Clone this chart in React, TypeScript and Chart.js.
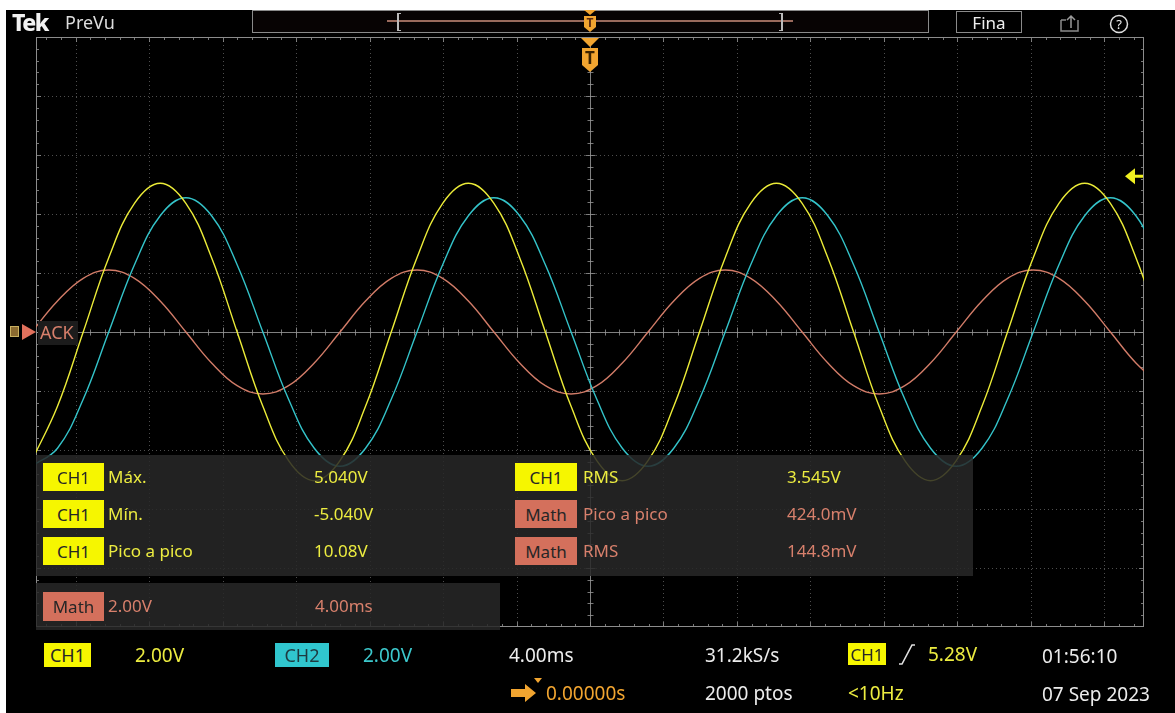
import React, { useEffect, useRef } from "react";
import { Chart, registerables } from "chart.js";
Chart.register(...registerables);

const timeMs = [
  -30.39, -28.99, -27.59, -26.2, -24.8, -23.4, -22.0, -20.6, -19.21, -17.81, -16.41, -15.01,
  -13.61, -12.22, -10.82, -9.42, -8.02, -6.62, -5.23, -3.83, -2.43, -1.03, 0.37, 1.76, 3.16,
  4.56, 5.96, 7.36, 8.75, 10.15, 11.55, 12.95, 14.35, 15.74, 17.14, 18.54, 19.94, 21.34, 22.73,
  24.13, 25.53, 26.93, 28.33, 29.72, 31.12,
];
const ch1Volts = [
  -4.36, -2.52, 0, 2.52, 4.36, 5.04, 4.36, 2.52, 0, -2.52, -4.36, -5.04, -4.36, -2.52, 0, 2.52,
  4.36, 5.04, 4.36, 2.52, 0, -2.52, -4.36, -5.04, -4.36, -2.52, 0, 2.52, 4.36, 5.04, 4.36, 2.52,
  0, -2.52, -4.36, -5.04, -4.36, -2.52, 0, 2.52, 4.36, 5.04, 4.36, 2.52, 0,
];
const ch2Volts = [
  -4.55, -3.94, -2.28, 0, 2.28, 3.94, 4.55, 3.94, 2.28, 0, -2.28, -3.94, -4.55, -3.94, -2.28, 0,
  2.28, 3.94, 4.55, 3.94, 2.28, 0, -2.28, -3.94, -4.55, -3.94, -2.28, 0, 2.28, 3.94, 4.55, 3.94,
  2.28, 0, -2.28, -3.94, -4.55, -3.94, -2.28, 0, 2.28, 3.94, 4.55, 3.94, 2.28,
];
const mathVolts = [
  0, 1.05, 1.82, 2.1, 1.82, 1.05, 0, -1.05, -1.82, -2.1, -1.82, -1.05, 0, 1.05, 1.82, 2.1, 1.82,
  1.05, 0, -1.05, -1.82, -2.1, -1.82, -1.05, 0, 1.05, 1.82, 2.1, 1.82, 1.05, 0, -1.05, -1.82,
  -2.1, -1.82, -1.05, 0, 1.05, 1.82, 2.1, 1.82, 1.05, 0, -1.05, -1.82,
];
const xGridMs = [-28, -24, -20, -16, -12, -8, -4, 0, 4, 8, 12, 16, 20, 24, 28];
const yGridV = [-8, -6, -4, -2, 0, 2, 4, 6, 8];
const X_MIN = -30.16;
const X_MAX = 30.16;
const Y_MIN = -10;
const Y_MAX = 10;
const triggerLevelV = 5.28;
const triggerTimeMs = 0;

const measLeft = [
  { src: "CH1", label: "Máx.", value: "5.040V" },
  { src: "CH1", label: "Mín.", value: "-5.040V" },
  { src: "CH1", label: "Pico a pico", value: "10.08V" },
];
const measRight = [
  { src: "CH1", label: "RMS", value: "3.545V" },
  { src: "Math", label: "Pico a pico", value: "424.0mV" },
  { src: "Math", label: "RMS", value: "144.8mV" },
];

const YEL_TRACE = "#ecec38";
const CYAN_TRACE = "#34c4ca";
const SALMON_TRACE = "#d27c68";
const YEL_BOX = "#f6f600";
const YEL_TEXT = "#ecec40";
const CYAN_BOX = "#30c6ce";
const CYAN_TEXT = "#3cc8cc";
const MATH_BOX = "#d4705c";
const MATH_TEXT = "#d8806c";
const WHITE_TEXT = "#ececec";
const ORANGE = "#f2a530";
const FONT = "'Noto Sans', 'Open Sans', sans-serif";

const scopePlugin = {
  id: "scope",
  beforeDatasetsDraw(chart: any) {
    const { ctx, chartArea: a, scales } = chart;
    const x = scales.x;
    const y = scales.y;
    ctx.save();
    ctx.lineWidth = 1;
    ctx.strokeStyle = "rgba(120,120,120,0.65)";
    ctx.setLineDash([1, 3]);
    xGridMs.forEach((v) => {
      if (v === 0) return;
      const px = Math.round(x.getPixelForValue(v)) + 0.5;
      ctx.beginPath();
      ctx.moveTo(px, a.top);
      ctx.lineTo(px, a.bottom);
      ctx.stroke();
    });
    yGridV.forEach((v) => {
      if (v === 0) return;
      const py = Math.round(y.getPixelForValue(v)) + 0.5;
      ctx.beginPath();
      ctx.moveTo(a.left, py);
      ctx.lineTo(a.right, py);
      ctx.stroke();
    });
    ctx.setLineDash([]);
    const cx = Math.round(x.getPixelForValue(0)) + 0.5;
    const cy = Math.round(y.getPixelForValue(0)) + 0.5;
    ctx.strokeStyle = "rgba(150,150,150,0.85)";
    ctx.beginPath();
    ctx.moveTo(a.left, cy);
    ctx.lineTo(a.right, cy);
    ctx.moveTo(cx, a.top);
    ctx.lineTo(cx, a.bottom);
    ctx.stroke();
    // minor ticks
    ctx.strokeStyle = "rgba(150,150,150,0.8)";
    ctx.beginPath();
    for (let i = -38; i <= 38; i++) {
      const v = i * 0.8;
      if (v <= X_MIN || v >= X_MAX) continue;
      const px = Math.round(x.getPixelForValue(v)) + 0.5;
      const len = i % 5 === 0 ? 5 : 3;
      ctx.moveTo(px, cy - len);
      ctx.lineTo(px, cy + len);
      ctx.moveTo(px, a.top);
      ctx.lineTo(px, a.top + len);
      ctx.moveTo(px, a.bottom);
      ctx.lineTo(px, a.bottom - len);
    }
    for (let j = -24; j <= 24; j++) {
      const v = j * 0.4;
      const py = Math.round(y.getPixelForValue(v)) + 0.5;
      const len = j % 5 === 0 ? 5 : 3;
      ctx.moveTo(cx - len, py);
      ctx.lineTo(cx + len, py);
      ctx.moveTo(a.left, py);
      ctx.lineTo(a.left + len, py);
      ctx.moveTo(a.right, py);
      ctx.lineTo(a.right - len, py);
    }
    ctx.stroke();
    ctx.strokeStyle = "#8c8c8c";
    ctx.strokeRect(a.left + 0.5, a.top + 0.5, a.right - a.left - 1, a.bottom - a.top - 1);
    ctx.restore();
  },
  afterDatasetsDraw(chart: any) {
    const { ctx, chartArea: a, scales } = chart;
    const x = scales.x;
    const y = scales.y;
    ctx.save();
    // trigger level arrow (right)
    const ly = y.getPixelForValue(triggerLevelV);
    ctx.fillStyle = "#f0f020";
    ctx.beginPath();
    ctx.moveTo(a.right - 19, ly);
    ctx.lineTo(a.right - 9, ly - 8);
    ctx.lineTo(a.right - 9, ly + 8);
    ctx.closePath();
    ctx.fill();
    ctx.fillRect(a.right - 10, ly - 1.5, 9, 3);
    // trigger position marker (top)
    const tx = x.getPixelForValue(triggerTimeMs);
    ctx.fillStyle = ORANGE;
    ctx.beginPath();
    ctx.moveTo(tx - 9, a.top + 1);
    ctx.lineTo(tx + 9, a.top + 1);
    ctx.lineTo(tx, a.top + 10);
    ctx.closePath();
    ctx.fill();
    ctx.beginPath();
    ctx.moveTo(tx - 8, a.top + 11);
    ctx.lineTo(tx + 8, a.top + 11);
    ctx.lineTo(tx + 8, a.top + 28);
    ctx.lineTo(tx, a.top + 35);
    ctx.lineTo(tx - 8, a.top + 28);
    ctx.closePath();
    ctx.fill();
    ctx.fillStyle = "#3a2200";
    ctx.font = "bold 17px " + FONT;
    ctx.textAlign = "center";
    ctx.textBaseline = "middle";
    ctx.fillText("T", tx, a.top + 22);
    // math/channel ground marker (left)
    const gy = y.getPixelForValue(0);
    ctx.fillStyle = "#e0705c";
    ctx.beginPath();
    ctx.moveTo(22, gy - 8);
    ctx.lineTo(36, gy);
    ctx.lineTo(22, gy + 8);
    ctx.closePath();
    ctx.fill();
    ctx.fillStyle = "#8a6a30";
    ctx.fillRect(10, gy - 6, 9, 11);
    ctx.strokeStyle = "#c8b060";
    ctx.strokeRect(10.5, gy - 5.5, 8, 10);
    ctx.restore();
  },
};

const Txt = ({ x, cy, size = 18, color = WHITE_TEXT, weight = 400, children, ls = 0 }: any) => (
  <div
    style={{
      position: "absolute",
      left: x,
      top: cy - size * 0.7,
      fontSize: size,
      lineHeight: `${size * 1.4}px`,
      color,
      fontWeight: weight,
      whiteSpace: "nowrap",
      letterSpacing: ls,
      fontFamily: FONT,
    }}
  >
    {children}
  </div>
);

const Box = ({ x, y, w, h, bg, text, size = 17, color = "#262626" }: any) => (
  <div
    style={{
      position: "absolute",
      left: x,
      top: y,
      width: w,
      height: h,
      background: bg,
      color,
      fontSize: size,
      fontFamily: FONT,
      display: "flex",
      alignItems: "center",
      justifyContent: "center",
      whiteSpace: "nowrap",
    }}
  >
    {text}
  </div>
);

export default function App() {
  const ref = useRef<HTMLCanvasElement | null>(null);
  useEffect(() => {
    document.body.style.margin = "0";
    document.body.style.background = "#000";
    const mk = (vals: number[]) => timeMs.map((t, i) => ({ x: t, y: vals[i] }));
    const chart = new Chart(ref.current as HTMLCanvasElement, {
      type: "line",
      data: {
        datasets: [
          { data: mk(ch1Volts), borderColor: YEL_TRACE, borderWidth: 1.4, pointRadius: 0, tension: 0.4, fill: false },
          { data: mk(ch2Volts), borderColor: CYAN_TRACE, borderWidth: 1.4, pointRadius: 0, tension: 0.4, fill: false },
          { data: mk(mathVolts), borderColor: SALMON_TRACE, borderWidth: 1.4, pointRadius: 0, tension: 0.4, fill: false },
        ],
      },
      options: {
        animation: false,
        responsive: false,
        maintainAspectRatio: false,
        devicePixelRatio: 1,
        events: [],
        layout: { padding: { left: 36, right: 31, top: 37, bottom: 86 } },
        scales: {
          x: { type: "linear", min: X_MIN, max: X_MAX, display: false },
          y: { type: "linear", min: Y_MIN, max: Y_MAX, display: false },
        },
        plugins: { legend: { display: false }, tooltip: { enabled: false } },
      } as any,
      plugins: [scopePlugin as any],
    });
    return () => chart.destroy();
  }, []);

  return (
    <div style={{ position: "absolute", left: 0, top: 0, width: 1175, height: 713, background: "#000", overflow: "hidden", fontFamily: FONT }}>
      <canvas ref={ref} width={1175} height={713} style={{ position: "absolute", left: 0, top: 0, width: 1175, height: 713 }} />
      {/* white scan borders */}
      <div style={{ position: "absolute", left: 0, top: 0, width: 1175, height: 10, background: "#fff" }} />
      <div style={{ position: "absolute", left: 0, top: 0, width: 6, height: 713, background: "#fff" }} />

      {/* top bar */}
      <Txt x={12} cy={22} size={23} weight={800} color="#f2f2f2" ls={-1.5}>Tek</Txt>
      <Txt x={65} cy={23} size={18} color="#dcdcdc">PreVu</Txt>
      <div style={{ position: "absolute", left: 252, top: 10, width: 677, height: 23, border: "1px solid #8a8a8a", boxSizing: "border-box", background: "#070303" }} />
      <div style={{ position: "absolute", left: 387, top: 20, width: 406, height: 2, background: "#9a6a5c" }} />
      <div style={{ position: "absolute", left: 397, top: 13, width: 4, height: 18, borderLeft: "2px solid #bbb", borderTop: "1px solid #bbb", borderBottom: "1px solid #bbb", boxSizing: "border-box" }} />
      <div style={{ position: "absolute", left: 779, top: 13, width: 4, height: 18, borderRight: "2px solid #bbb", borderTop: "1px solid #bbb", borderBottom: "1px solid #bbb", boxSizing: "border-box" }} />
      <svg style={{ position: "absolute", left: 582, top: 10 }} width={16} height={23}>
        <polygon points="2,0 14,0 8,5" fill={ORANGE} />
        <polygon points="2,6 14,6 14,17 8,22 2,17" fill={ORANGE} />
        <text x={8} y={17} fontSize={12} fontWeight={700} textAnchor="middle" fill="#5a2a10" fontFamily="Noto Sans">T</text>
      </svg>
      <div style={{ position: "absolute", left: 956, top: 11, width: 66, height: 22, border: "1px solid #8a8a8a", boxSizing: "border-box", color: "#eee", fontSize: 17, display: "flex", alignItems: "center", justifyContent: "center", fontFamily: FONT }}>Fina</div>
      <svg style={{ position: "absolute", left: 1058, top: 13 }} width={24} height={20}>
        <path d="M3,7 L3,18 L20,18 L20,7" stroke="#8a8a8a" strokeWidth={1.5} fill="none" />
        <path d="M3,7 L8,7" stroke="#8a8a8a" strokeWidth={1.5} />
        <path d="M13,15 L13,3 M9,7 L13,3 L17,7" stroke="#9a9a9a" strokeWidth={1.5} fill="none" />
      </svg>
      <svg style={{ position: "absolute", left: 1108, top: 13 }} width={22} height={22}>
        <circle cx={11} cy={11} r={8.5} stroke="#ddd" strokeWidth={1.5} fill="none" />
        <text x={11} y={16} fontSize={13} textAnchor="middle" fill="#eee" fontFamily="Noto Sans">?</text>
      </svg>

      {/* left label */}
      <div style={{ position: "absolute", left: 38, top: 321, width: 40, height: 24, background: "#1c1c1c" }} />
      <Txt x={40} cy={333} size={18} color={MATH_TEXT}>ACK</Txt>

      {/* measurement panel */}
      <div style={{ position: "absolute", left: 36, top: 455, width: 937, height: 121, background: "rgba(40,40,40,0.86)" }} />
      {measLeft.map((m, i) => (
        <React.Fragment key={"l" + i}>
          <Box x={43} y={463 + i * 37} w={61} h={28} bg={m.src === "CH1" ? YEL_BOX : MATH_BOX} text={m.src} />
          <Txt x={108} cy={477 + i * 37} size={17} color={m.src === "CH1" ? YEL_TEXT : MATH_TEXT}>{m.label}</Txt>
          <Txt x={314} cy={477 + i * 37} size={17} color={m.src === "CH1" ? YEL_TEXT : MATH_TEXT}>{m.value}</Txt>
        </React.Fragment>
      ))}
      {measRight.map((m, i) => (
        <React.Fragment key={"r" + i}>
          <Box x={515} y={463 + i * 37} w={62} h={28} bg={m.src === "CH1" ? YEL_BOX : MATH_BOX} text={m.src} />
          <Txt x={583} cy={477 + i * 37} size={17} color={m.src === "CH1" ? YEL_TEXT : MATH_TEXT}>{m.label}</Txt>
          <Txt x={787} cy={477 + i * 37} size={17} color={m.src === "CH1" ? YEL_TEXT : MATH_TEXT}>{m.value}</Txt>
        </React.Fragment>
      ))}

      {/* math panel */}
      <div style={{ position: "absolute", left: 36, top: 583, width: 464, height: 47, background: "rgba(40,40,40,0.86)" }} />
      <Box x={43} y={592} w={61} h={29} bg={MATH_BOX} text="Math" />
      <Txt x={108} cy={606} size={17} color={MATH_TEXT}>2.00V</Txt>
      <Txt x={315} cy={606} size={17} color={MATH_TEXT}>4.00ms</Txt>

      {/* bottom bar row 1 */}
      <Box x={44} y={643} w={47} h={24} bg={YEL_BOX} text="CH1" size={18} />
      <Txt x={135} cy={655} size={19} color={YEL_TEXT}>2.00V</Txt>
      <Box x={275} y={643} w={54} h={24} bg={CYAN_BOX} text="CH2" size={18} color="#1e3a40" />
      <Txt x={363} cy={655} size={19} color={CYAN_TEXT}>2.00V</Txt>
      <Txt x={509} cy={655} size={19}>4.00ms</Txt>
      <Txt x={705} cy={655} size={19}>31.2kS/s</Txt>
      <Box x={848} y={643} w={38} h={22} bg={YEL_BOX} text="CH1" size={17} />
      <svg style={{ position: "absolute", left: 897, top: 642 }} width={20} height={24}>
        <path d="M2,22 L5,22 L15,3 L18,3" stroke="#e0e0e0" strokeWidth={1.6} fill="none" />
      </svg>
      <Txt x={928} cy={654} size={19} color={YEL_TEXT}>5.28V</Txt>
      <Txt x={1042} cy={656} size={19}>01:56:10</Txt>

      {/* bottom bar row 2 */}
      <svg style={{ position: "absolute", left: 509, top: 676 }} width={36} height={28}>
        <polygon points="2,13 16,13 16,8 27,17 16,26 16,21 2,21" fill={ORANGE} />
        <polygon points="25,2 33,2 29,7" fill={ORANGE} />
      </svg>
      <Txt x={546} cy={693} size={19} color={ORANGE}>0.00000s</Txt>
      <Txt x={705} cy={693} size={19}>2000 ptos</Txt>
      <Txt x={848} cy={693} size={19} color={YEL_TEXT}>{"<10Hz"}</Txt>
      <Txt x={1042} cy={694} size={19}>07 Sep 2023</Txt>
    </div>
  );
}
